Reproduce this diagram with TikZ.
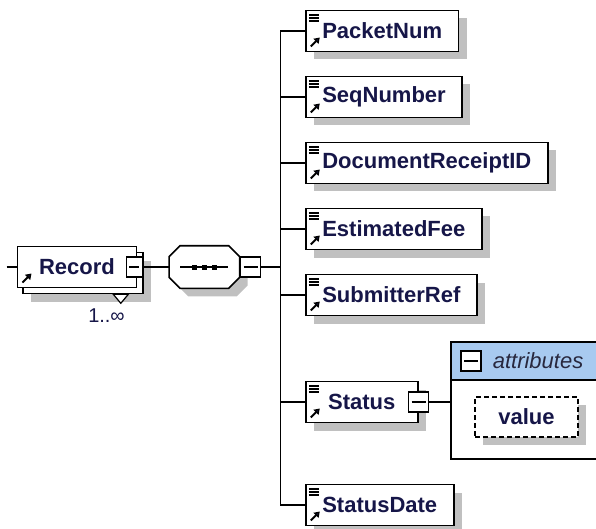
\documentclass[tikz,border=0pt]{standalone}
\usepackage{fontspec}
\setmainfont{Liberation Sans}
\usetikzlibrary{arrows.meta,shadows,positioning}
\definecolor{navy}{RGB}{22,22,72}
\definecolor{shadowgray}{RGB}{192,192,192}
\definecolor{attrblue}{RGB}{168,202,240}
\definecolor{attrtext}{RGB}{40,40,62}
\newcommand\elemfont{\fontsize{22pt}{26pt}\selectfont\bfseries}
\newcommand\attrfont{\fontsize{22pt}{26pt}\selectfont\itshape}
\newcommand\occfont{\fontsize{20pt}{24pt}\selectfont}
% icons in the left corners of an element box
\newcommand\refarrow{\draw[line width=2pt, -{Triangle[length=5.5pt,width=7pt]}]
  ([xshift=5pt,yshift=5pt]path picture bounding box.south west) -- ++(9,-9);}
\newcommand\leafmark{\foreach \d in {4.5pt,7.5pt,10.5pt}
  \draw[line width=1.3pt] ([xshift=3pt,yshift=-\d]path picture bounding box.north west) -- ++(10,0);}
\tikzset{
  boxshadow/.style={drop shadow={shadow xshift=8pt, shadow yshift=-8pt, fill=shadowgray, opacity=1}},
  box/.style={draw, line width=1.6pt, fill=white, minimum height=41pt, inner xsep=16.5pt,
    text=navy, font=\elemfont},
  elem/.style={box, anchor=west, boxshadow, path picture={\leafmark\refarrow}},
  minusbox/.style={draw, line width=1.6pt, fill=white, minimum width=20pt, minimum height=20pt,
    inner sep=0, path picture={\draw[line width=1.5pt]
      ([xshift=3pt]path picture bounding box.west) -- ([xshift=-3pt]path picture bounding box.east);}},
  seqbox/.style={minimum width=69pt, minimum height=41pt, inner sep=0}
}
\begin{document}
\begin{tikzpicture}[x=1pt, y=-1pt, line width=1.6pt]
  \useasboundingbox (0,0) rectangle (596,529);
  % Record, drawn as a stack of two boxes
  \node[box, boxshadow, minimum width=120pt] (recback) at (83,273) {};
  \coordinate (occ) at ([xshift=-23pt]recback.south east);
  \draw[fill=white, line width=1.2pt] ([xshift=-7.5pt]occ) -- ([xshift=7.5pt]occ) -- ([yshift=-9pt]occ) -- cycle;
  \node[box, minimum width=119pt, path picture={\refarrow}] (rec) at ([xshift=-6pt,yshift=6pt]recback.center) {Record};
  \node[minusbox, minimum width=16pt] (recminus) at ([xshift=-3pt]rec.east) {};
  \node[font=\occfont, text=navy, inner sep=1pt, anchor=north] (occlabel) at (106.5,307) {1..∞};
  \coordinate[left=10pt of rec.west] (recin);
  \draw (recin) -- (rec.west);
  % sequence
  \node[seqbox, right=26pt of recminus] (seq) {};
  \draw[fill=white, boxshadow] ([xshift=11pt]seq.north west) -- ([xshift=-11pt]seq.north east)
    -- ([yshift=-11pt]seq.north east) -- ([yshift=11pt]seq.south east)
    -- ([xshift=-11pt]seq.south east) -- ([xshift=11pt]seq.south west)
    -- ([yshift=11pt]seq.south west) -- ([yshift=-11pt]seq.north west) -- cycle;
  \draw ([xshift=-24pt]seq.center) -- ([xshift=24pt]seq.center);
  \foreach \dx in {-10pt,0pt,10pt}
    \fill ([xshift=\dx]seq.center) ++(-2.5,-2.5) rectangle ++(5,5);
  \node[minusbox, right=0pt of seq] (seqminus) {};
  \draw (recminus) -- (seq.west);
  \coordinate[right=19pt of seqminus] (spine);
  \draw (seqminus) -- (spine);
  % children
  \node[elem] (pnum) at (305,31) {PacketNum};
  \node[elem] (seqnum) at (305,97) {SeqNumber};
  \node[elem] (docid) at (305,163) {DocumentReceiptID};
  \node[elem] (fee) at (305,229) {EstimatedFee};
  \node[elem] (subref) at (305,295) {SubmitterRef};
  \node[elem, minimum width=112pt] (status) at (305,402) {Status};
  \node[elem] (sdate) at (305,505) {StatusDate};
  \draw (spine |- pnum.west) -- (spine |- sdate.west);
  \foreach \n in {pnum,seqnum,docid,fee,subref,status,sdate}
    \draw (spine |- \n.west) -- (\n.west);
  % attributes of Status
  \node[minusbox] (statminus) at (status.east) {};
  \node[draw, minimum width=153pt, minimum height=117pt, inner sep=0,
    right=21pt of statminus, yshift=1.5pt] (attrs) {};
  \node[draw, fill=attrblue, minimum width=147pt, minimum height=38pt, inner sep=0,
    anchor=north west] (attrhead) at (attrs.north west) {};
  \node[minusbox, right=10pt of attrhead.west] (attrminus) {};
  \node[font=\attrfont, text=attrtext, inner sep=0, right=10pt of attrminus] (attrlabel) {attributes};
  \draw (statminus.east) -- (statminus.east -| attrs.west);
  \node[box, boxshadow, dash pattern=on 5pt off 3pt, minimum width=103pt, minimum height=40pt] (value) at (526.5,417) {value};
\end{tikzpicture}
\end{document}
